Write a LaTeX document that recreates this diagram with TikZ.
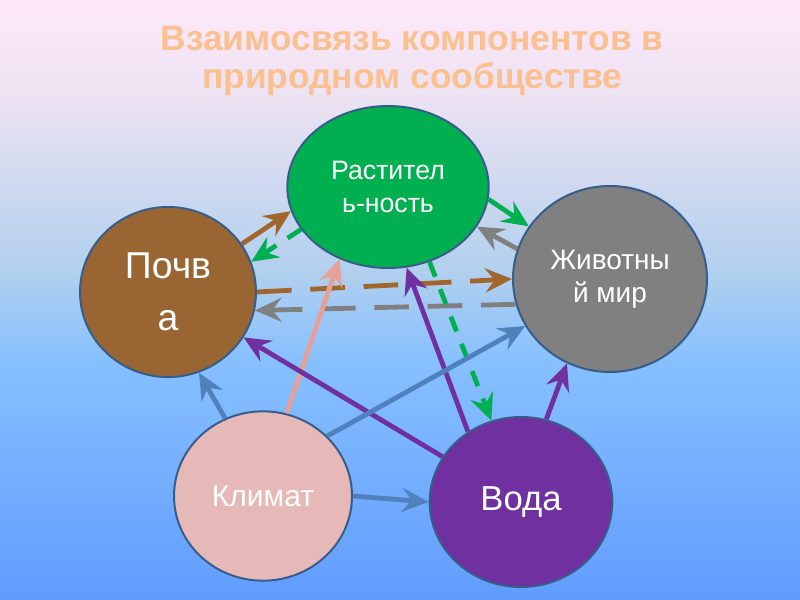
\documentclass[tikz,border=0pt]{standalone}
\usepackage{fontspec}
\setmainfont{Liberation Sans}
\usetikzlibrary{arrows.meta, shapes.geometric}

\definecolor{titlepeach}{RGB}{250,192,143}
\definecolor{bgtop}{RGB}{254,232,248}
\definecolor{bgpale}{RGB}{235,226,242}
\definecolor{bgmid}{RGB}{178,208,238}
\definecolor{bgsky}{RGB}{135,192,255}
\definecolor{bgbot}{RGB}{96,156,255}
\definecolor{rimblue}{RGB}{56,93,138}
\definecolor{plantgreen}{RGB}{0,176,80}
\definecolor{soilbrown}{RGB}{153,102,51}
\definecolor{animalgray}{RGB}{128,128,128}
\definecolor{climatepink}{RGB}{230,185,184}
\definecolor{waterpurple}{RGB}{112,48,160}
\definecolor{linkblue}{RGB}{79,129,189}
\definecolor{linkpink}{RGB}{230,160,152}
\definecolor{linkbrown}{RGB}{160,102,46}

\pgfdeclareverticalshading{skyfade}{100bp}{color(0bp)=(bgbot); color(25bp)=(bgbot); color(45bp)=(bgsky); color(52.5bp)=(bgmid); color(66.5bp)=(bgpale); color(75bp)=(bgtop); color(100bp)=(bgtop)}

\tikzset{
  sphere/.style={draw=rimblue, line width=1.5pt, ellipse, inner sep=0pt, text=white, align=center},
  link/.style={line width=3.6pt, -{Stealth[length=20pt, width=18pt, inset=7pt]}},
  longdash/.style={dash pattern=on 26pt off 14pt},
  shortdash/.style={dash pattern=on 12pt off 10pt}
}

\begin{document}
\begin{tikzpicture}[x=0.75pt, y=-0.75pt]
                    \useasboundingbox (0,0) rectangle (800,600);
                    \shade[shading=skyfade] (0,0) rectangle (800,600);

                    \node (title) [font=\bfseries\fontsize{26.5}{29}\selectfont, text=titlepeach, align=center] at (412,61) {Взаимосвязь компонентов в\\природном сообществе};

                    \node (plants) [sphere, fill=plantgreen, minimum width=151pt, minimum height=121.5pt, font=\fontsize{20}{25}\selectfont] at (388,187) {Растител\\ь-ность};
                    \node (soil) [sphere, fill=soilbrown, minimum width=132pt, minimum height=127.5pt, font=\fontsize{28}{39}\selectfont] at (168,292) {Почв\\а};
                    \node (animals) [sphere, fill=animalgray, minimum width=145.5pt, minimum height=139.5pt, font=\fontsize{21}{25}\selectfont] at (610,279) {Животны\\й мир};
                    \node (climate) [sphere, fill=climatepink, minimum width=133.5pt, minimum height=127pt, font=\fontsize{22.5}{27}\selectfont] at (263,496) {Климат};
                    \node (water) [sphere, fill=waterpurple, minimum width=137pt, minimum height=127.5pt, font=\fontsize{26}{31}\selectfont] at (521,502) {Вода};

                    \draw[link, linkbrown] (soil.33) -- (plants.194);
                    \draw[link, plantgreen, shortdash] (plants.206) -- (soil.20);
                    \draw[link, plantgreen] (plants.-7) -- (animals.147);
                    \draw[link, animalgray] (animals.162) -- (plants.-24);
                    \draw[link, linkbrown, longdash] (soil.0) -- (animals.180);
                    \draw[link, animalgray, longdash] (animals.195) -- (soil.-12);
                    \draw[link, linkpink] (climate.74) -- (plants.236);
                    \draw[link, waterpurple] (water.127) -- (plants.-77);
                    \draw[link, plantgreen, shortdash] (plants.-61) -- (water.110);
                    \draw[link, waterpurple] (water.150) -- (soil.-31);
                    \draw[link, linkblue] (climate.43) -- (animals.209);
                    \draw[link, linkblue] (climate.116) -- (soil.-69);
                    \draw[link, waterpurple] (water.73) -- (animals.-117);
                    \draw[link, linkblue] (climate.0) -- (water.180);
                \end{tikzpicture}
\end{document}
